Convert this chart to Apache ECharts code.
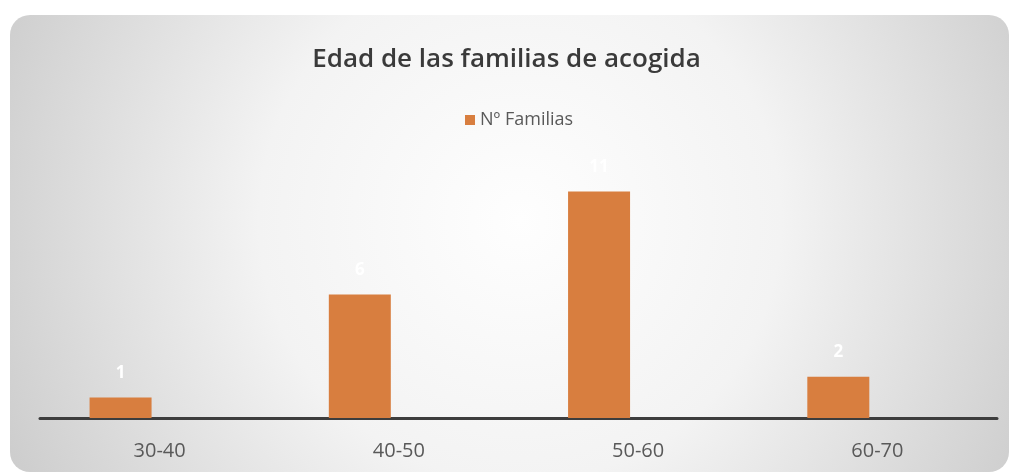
<!DOCTYPE html>
<html>
<head>
<meta charset="utf-8">
<script src="https://cdn.jsdelivr.net/npm/echarts@6/dist/echarts.min.js"></script>
<style>
  html, body { margin: 0; padding: 0; background: #fff; }
  #chart { width: 1013px; height: 475px; }
</style>
</head>
<body>
<div id="chart"></div>
<script>
// datos
const categories = ['30-40', '40-50', '50-60', '60-70']
const familias = [1, 6, 11, 2]
const vacio = [null, null, null, null]   // segunda serie vacía de Excel (desplaza las barras)

const chart = echarts.init(document.getElementById('chart'))

const option = {
    animation: false,
    // fondo gris con esquinas redondeadas
    graphic: [{
        type: 'rect',
        z: -10,
        shape: { x: 10, y: 15, width: 999, height: 457, r: 20 },
        style: {
            fill: new echarts.graphic.RadialGradient(520, 220, 580, [
                { offset: 0, color: '#fefefe' },
                { offset: 0.45, color: '#f3f3f3' },
                { offset: 1, color: '#cbcbcb' }
            ], true)
        }
    }],
    title: {
        text: 'Edad de las familias de acogida',
        left: 'center',
        top: 42,
        textStyle: {
            fontFamily: 'Open Sans',
            fontSize: 26,
            fontWeight: 600,
            color: '#3a3a3a'
        }
    },
    legend: {
        data: ['Nº Familias'],
        top: 106,
        left: 460,
        itemWidth: 10,
        itemHeight: 10,
        itemGap: 6,
        icon: 'rect',
        textStyle: {
            fontFamily: 'Open Sans',
            fontSize: 18,
            color: '#595959'
        }
    },
    grid: {
        left: 40,
        right: 16,
        top: 171,
        bottom: 57
    },
    xAxis: {
        type: 'category',
        data: categories,
        axisLine: { lineStyle: { color: '#3d3d3d', width: 3 } },
        axisTick: { show: false },
        axisLabel: {
            margin: 23,
            fontFamily: 'Open Sans',
            fontSize: 20,
            color: '#595959'
        }
    },
    yAxis: {
        type: 'value',
        min: 0,
        max: 12,
        show: false
    },
    series: [{
        name: 'Nº Familias',
        type: 'bar',
        data: familias,
        barWidth: 62,
        barGap: '26%',
        itemStyle: { color: '#d87e3f' },
        label: {
            show: true,
            position: 'top',
            distance: 16,
            fontFamily: 'Open Sans',
            fontSize: 17,
            fontWeight: 'bold',
            color: '#ffffff'
        }
    }, {
        name: '',
        type: 'bar',
        data: vacio,
        barWidth: 62
    }]
}

chart.setOption(option)
</script>
</body>
</html>
